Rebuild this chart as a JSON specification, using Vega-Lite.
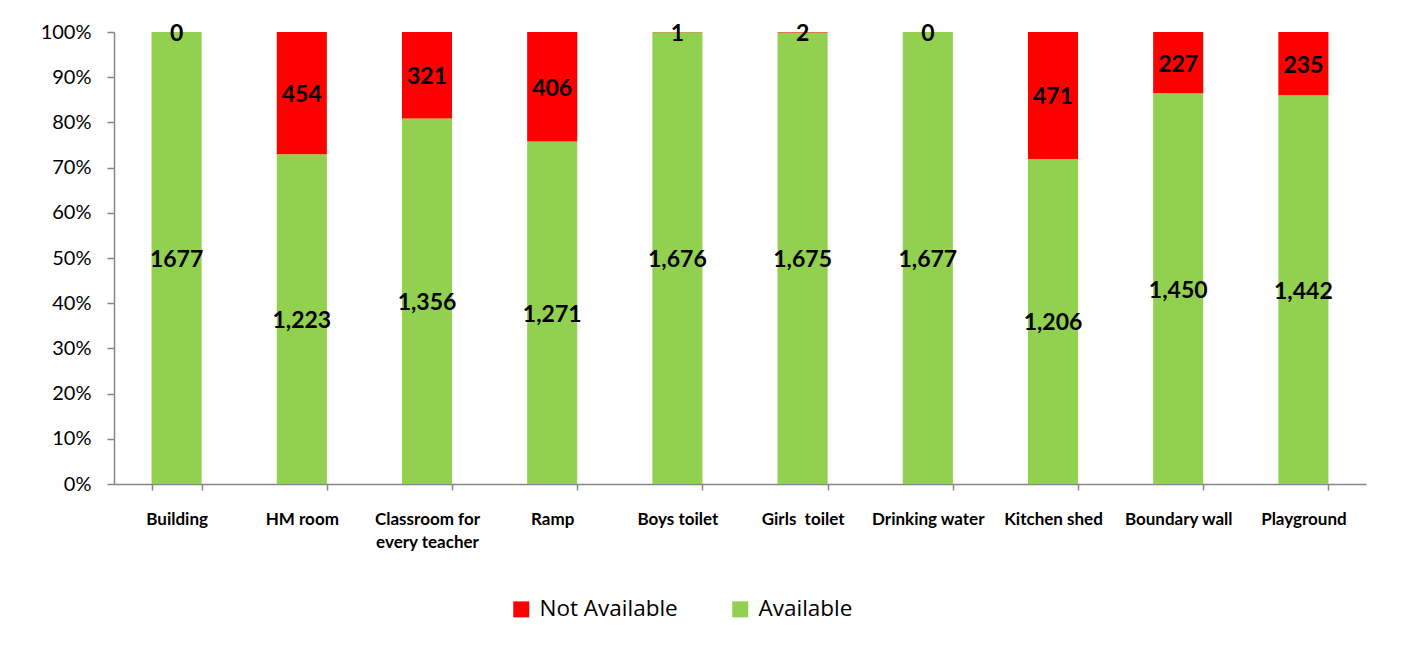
{
  "$schema": "https://vega.github.io/schema/vega-lite/v6.json",
  "autosize": {"type": "none"},
  "padding": {"left": 114, "top": 32, "right": 46, "bottom": 166},
  "width": 1252,
  "height": 452,
  "background": "white",
  "config": {
    "font": "Lato",
    "view": {"stroke": null}
  },
  "data": {
    "values": [
      {"facility": "Building", "status": "Available", "ord": 1, "count": 1677, "label": "1677"},
      {"facility": "Building", "status": "Not Available", "ord": 2, "count": 0, "label": "0"},
      {"facility": "HM room", "status": "Available", "ord": 1, "count": 1223, "label": "1,223"},
      {"facility": "HM room", "status": "Not Available", "ord": 2, "count": 454, "label": "454"},
      {"facility": "Classroom for every teacher", "status": "Available", "ord": 1, "count": 1356, "label": "1,356"},
      {"facility": "Classroom for every teacher", "status": "Not Available", "ord": 2, "count": 321, "label": "321"},
      {"facility": "Ramp", "status": "Available", "ord": 1, "count": 1271, "label": "1,271"},
      {"facility": "Ramp", "status": "Not Available", "ord": 2, "count": 406, "label": "406"},
      {"facility": "Boys toilet", "status": "Available", "ord": 1, "count": 1676, "label": "1,676"},
      {"facility": "Boys toilet", "status": "Not Available", "ord": 2, "count": 1, "label": "1"},
      {"facility": "Girls\u00a0 toilet", "status": "Available", "ord": 1, "count": 1675, "label": "1,675"},
      {"facility": "Girls\u00a0 toilet", "status": "Not Available", "ord": 2, "count": 2, "label": "2"},
      {"facility": "Drinking water", "status": "Available", "ord": 1, "count": 1677, "label": "1,677"},
      {"facility": "Drinking water", "status": "Not Available", "ord": 2, "count": 0, "label": "0"},
      {"facility": "Kitchen shed", "status": "Available", "ord": 1, "count": 1206, "label": "1,206"},
      {"facility": "Kitchen shed", "status": "Not Available", "ord": 2, "count": 471, "label": "471"},
      {"facility": "Boundary wall", "status": "Available", "ord": 1, "count": 1450, "label": "1,450"},
      {"facility": "Boundary wall", "status": "Not Available", "ord": 2, "count": 227, "label": "227"},
      {"facility": "Playground", "status": "Available", "ord": 1, "count": 1442, "label": "1,442"},
      {"facility": "Playground", "status": "Not Available", "ord": 2, "count": 235, "label": "235"}
    ]
  },
  "transform": [
    {"stack": "count", "groupby": ["facility"], "sort": [{"field": "ord", "order": "ascending"}], "offset": "normalize", "as": ["y0", "y1"]},
    {"calculate": "(datum.y0 + datum.y1) / 2", "as": "ymid"}
  ],
  "encoding": {
    "x": {
      "field": "facility",
      "type": "nominal",
      "sort": null,
      "scale": {"paddingInner": 0.6, "paddingOuter": 0.3},
      "axis": {
        "title": null,
        "labelAngle": 0,
        "labelFont": "Lato",
        "labelFontSize": 17,
        "labelFontWeight": "bold",
        "labelColor": "black",
        "labelPadding": 21,
        "labelLimit": 200,
        "labelExpr": "datum.label == 'Classroom for every teacher' ? ['Classroom for', 'every teacher'] : datum.label",
        "labelLineHeight": 23,
        "labelBaseline": "top",
        "domainColor": "#868686",
        "domainWidth": 1.5,
        "tickColor": "#868686",
        "tickWidth": 1.5,
        "tickSize": 6,
        "tickBand": "extent"
      }
    }
  },
  "layer": [
    {
      "mark": {"type": "bar"},
      "encoding": {
        "y": {
          "field": "y0",
          "type": "quantitative",
          "scale": {"domain": [0, 1]},
          "axis": {
            "title": null,
            "format": ".0%",
            "values": [0, 0.1, 0.2, 0.3, 0.4, 0.5, 0.6, 0.7, 0.8, 0.9, 1],
            "grid": false,
            "labelFont": "Lato",
            "labelFontSize": 20,
            "labelColor": "black",
            "labelPadding": 16,
            "domainColor": "#868686",
            "domainWidth": 1.5,
            "tickColor": "#868686",
            "tickWidth": 1.5,
            "tickSize": 7
          }
        },
        "y2": {"field": "y1"},
        "color": {
          "field": "status",
          "type": "nominal",
          "scale": {"domain": ["Not Available", "Available"], "range": ["#FF0000", "#92D050"]},
          "legend": {
            "title": null,
            "orient": "none",
            "direction": "horizontal",
            "legendX": 396,
            "legendY": 566,
            "symbolType": "square",
            "symbolSize": 256,
            "symbolStrokeWidth": 0,
            "labelFont": "Open Sans",
            "labelFontSize": 22.5,
            "labelColor": "black",
            "labelOffset": 7,
            "columnPadding": 51
          }
        }
      }
    },
    {
      "mark": {"type": "text", "font": "Lato", "fontSize": 23, "fontWeight": "bold", "color": "black", "baseline": "middle", "align": "center", "dy": 2},
      "encoding": {
        "y": {"field": "ymid", "type": "quantitative"},
        "text": {"field": "label"}
      }
    }
  ]
}
